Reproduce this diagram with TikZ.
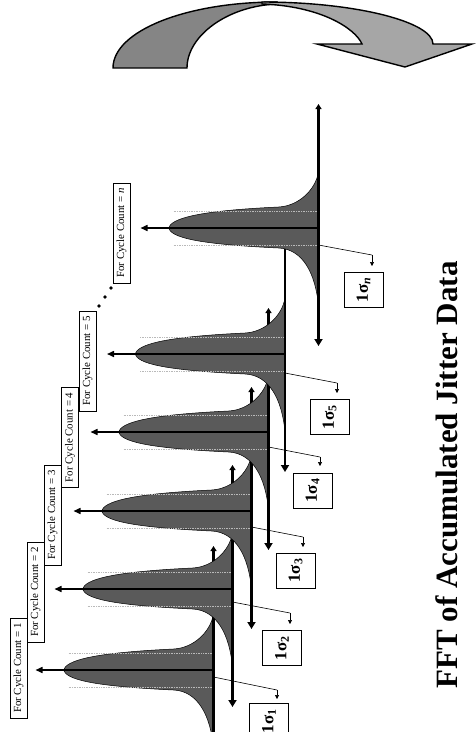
\documentclass[tikz,border=0pt]{standalone}
\usepackage{fontspec}
\setmainfont{Liberation Serif}
\usetikzlibrary{arrows.meta}
\definecolor{distfill}{RGB}{90,90,90}
\definecolor{arrowdark}{RGB}{133,133,133}
\definecolor{arrowlight}{RGB}{166,166,166}
\definecolor{dotgray}{RGB}{185,185,185}
\tikzset{
  distr/.pic={
    \fill[distfill, draw=black, line width=0.5pt]
      (0,-56) .. controls (-3,-38) and (-20,-22) .. (-40,-21)
      .. controls (-125,-17) and (-147,-9) .. (-150,0)
      .. controls (-147,9) and (-125,16) .. (-40,20)
      .. controls (-16,21) and (-3,45) .. (0,78) -- cycle;
    \draw[dotgray, densely dotted, line width=0.7pt] (-145,-17) -- (0,-17) (-145,17) -- (0,17);
    \draw[line width=1.5pt, -{Triangle[length=7pt,width=6pt]}] (0,0) -- (-178,0);
    \draw[line width=2.5pt, {Triangle[length=5pt,width=6pt]}-{Triangle[length=7pt,width=8pt]}] (0,-124) -- (0,118);
  },
  countbox/.style={draw, line width=0.6pt, rotate=90, minimum width=100pt, minimum height=17pt,
    inner sep=1pt, font=\fontsize{10.9}{12}\selectfont},
  sigbox/.style={draw, line width=0.8pt, rotate=90, minimum width=35pt, minimum height=39pt,
    inner sep=1pt, font=\bfseries\fontsize{17}{20}\selectfont},
  pointer/.style={line width=0.6pt},
  pointarrow/.style={line width=0.6pt, -{Triangle[length=4pt,width=4pt]}},
  bigarrow/.style={draw=black, line width=1.4pt, line join=miter},
}
\begin{document}
\begin{tikzpicture}[x=1pt, y=-1pt]
\useasboundingbox (0,0) rectangle (475,732);

% curved arrow
\filldraw[bigarrow, fill=arrowdark] (113,68) .. controls (113,31) and (186,2) .. (277,2)
  -- (277,4) .. controls (227,6) and (187,36) .. (187,68) -- cycle;
\filldraw[bigarrow, fill=arrowlight] (262,2) .. controls (356,2) and (433,22) .. (433,44)
  -- (472,44) -- (405,67) -- (317,44) -- (362,44) .. controls (355,28) and (320,6) .. (262,4) -- cycle;

% distributions
\foreach \nm/\X/\Y/\ax/\ay/\bx/\by/\cx/\cy/\sx/\sy/\ln/\lab in {
  1/213.5/670/213.5/677/277/690/18.5/668/269/721/9/1,
  2/232.5/589/232.5/602/290/613/35.5/592/282/648/11/2,
  3/251.5/511/251.5/527/303/537/52.5/515/295.5/570.5/10/3,
  4/268.5/432/268.5/447/320/457/70/437.5/312.5/490.5/9/4,
  5/285/354/285/373/337/383/87.5/361/329.5/417/10/5,
  n/318.5/228/318.5/245/372/255/121.5/233/363.5/290/11/\textit{n}}{
  \pic at (\X,\Y) {distr};
  \coordinate (ps\nm) at (\ax,\ay);
  \coordinate (pb\nm) at (\bx,\by);
  \coordinate (pe\nm) at (\bx,\by+\ln);
  \draw[pointer] (ps\nm) -- (pb\nm);
  \draw[pointarrow] (pb\nm) -- (pe\nm);
  \node[countbox] (cc\nm) at (\cx,\cy) {For Cycle Count = \lab};
  \node[sigbox] (sg\nm) at (\sx,\sy) {1σ\textsubscript{\lab}};
}

% dots
\fill (99,306) circle (1.8) (105,297) circle (1.8) (111,288) circle (1.8);

% title
\node[rotate=90, anchor=base, inner sep=0pt, font=\bfseries\fontsize{31}{36}\selectfont] (title)
  at (457,475) {FFT of Accumulated Jitter Data};
\end{tikzpicture}
\end{document}
